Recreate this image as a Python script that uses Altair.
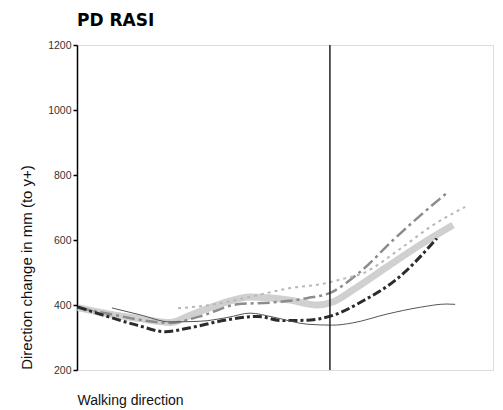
import altair as alt
import pandas as pd

# Walking-direction position (arbitrary 0-100 scale) and direction change (mm)
thin_x = [8.4, 15.1, 22.4, 29.6, 36.3, 41.6, 47.1, 55.3, 61.5, 66.3, 74.5, 82.5, 88.9, 90.9]
thin_y = [391, 370, 348, 350, 362, 375, 363, 341, 338, 345, 372, 393, 403, 402]

black_x = [0.2, 6.25, 14.4, 21.2, 27.2, 35.1, 43.3, 49.3, 54.8, 61.5, 68.8, 76.9, 86.5]
black_y = [394, 369, 338, 318, 330, 352, 365, 352, 353, 368, 413, 480, 605]

band_x = [0.2, 7.9, 15.1, 22.4, 27.2, 35.1, 41.6, 51.2, 57.7, 61.5, 66.3, 74.5, 82.5, 90.4]
band_y = [392, 372, 358, 346, 368, 406, 425, 415, 400, 409, 446, 517, 585, 646]

gray_x = [0.2, 7.9, 22.4, 29.6, 38.5, 47.1, 55.3, 61.5, 64.4, 68.8, 76.0, 82.5, 89.2]
gray_y = [392, 372, 345, 365, 402, 408, 421, 441, 465, 510, 600, 675, 748]

dot_x = [24.3, 32.0, 39.2, 45.7, 51.2, 59.1, 63.2, 68.8, 77.6, 84.9, 93.3]
dot_y = [390, 400, 418, 437, 452, 465, 478, 498, 572, 640, 702]

divider_x = [60.8]
y_ticks = [200, 400, 600, 800, 1000, 1200]


def frame(xs, ys, name):
    return pd.DataFrame({"x": xs, "y": ys, "s": name})


xs = alt.Scale(domain=[0, 100], nice=False, zero=False)
ys = alt.Scale(domain=[200, 1200], nice=False, zero=False)

x_enc = alt.X("x:Q", scale=xs, axis=alt.Axis(
    labels=False, ticks=False, domain=False, grid=False,
    title="Walking direction", titleFont="Liberation Sans", titleFontSize=14,
    titleFontWeight="normal", titleColor="#111", titleAnchor="start",
    titleAlign="left", titleX=0, titleY=34, titleBaseline="alphabetic"))
y_enc = alt.Y("y:Q", scale=ys, axis=alt.Axis(
    values=y_ticks, format="d", grid=False, domain=True, domainColor="#000",
    domainWidth=1.5, ticks=True, tickSize=4, tickColor="#000", tickWidth=1.5,
    labelFont="Liberation Sans", labelFontSize=10.5, labelColor="#333",
    labelPadding=2,
    title="Direction change in mm (to y+)", titleFont="Liberation Sans",
    titleFontSize=15, titleFontWeight="normal", titleColor="#111",
    titleAngle=-90, titleAlign="center", titleBaseline="alphabetic",
    titleX=-46, titleY=222))


def line(df, color, width, dash=None):
    kw = dict(color=color, strokeWidth=width, interpolate="monotone",
              strokeCap="butt")
    if dash:
        kw["strokeDash"] = dash
    return alt.Chart(df).mark_line(**kw).encode(x=x_enc, y=y_enc, order="x:Q")


band = line(frame(band_x, band_y, "band"), "#d0d0d0", 7)
gray = line(frame(gray_x, gray_y, "gray"), "#8c8c8c", 2.5, [12, 4, 3, 4])
dots = line(frame(dot_x, dot_y, "dots"), "#b8b8b8", 2, [3, 4])
black = line(frame(black_x, black_y, "black"), "#2b2b2b", 3, [9, 3, 3, 3])
thin = line(frame(thin_x, thin_y, "thin"), "#555555", 1)

rule = alt.Chart(pd.DataFrame({"x": divider_x})).mark_rule(
    color="#222", strokeWidth=1.5).encode(x=alt.X("x:Q", scale=xs))

chart = alt.layer(band, gray, dots, black, thin, rule).properties(
    width=416, height=325,
    title=alt.TitleParams("PD RASI", anchor="start", frame="group",
                          font="DejaVu Sans", fontSize=17, fontWeight=900,
                          color="#000", offset=14, dy=17, baseline="alphabetic"),
    autosize=alt.AutoSizeParams(type="none"),
    padding={"left": 77, "top": 45, "right": 10, "bottom": 40},
).configure_view(stroke="#000", strokeWidth=1.5).configure(background="white")

chart.save("out.html", embed_options={"renderer": "svg", "actions": False})
